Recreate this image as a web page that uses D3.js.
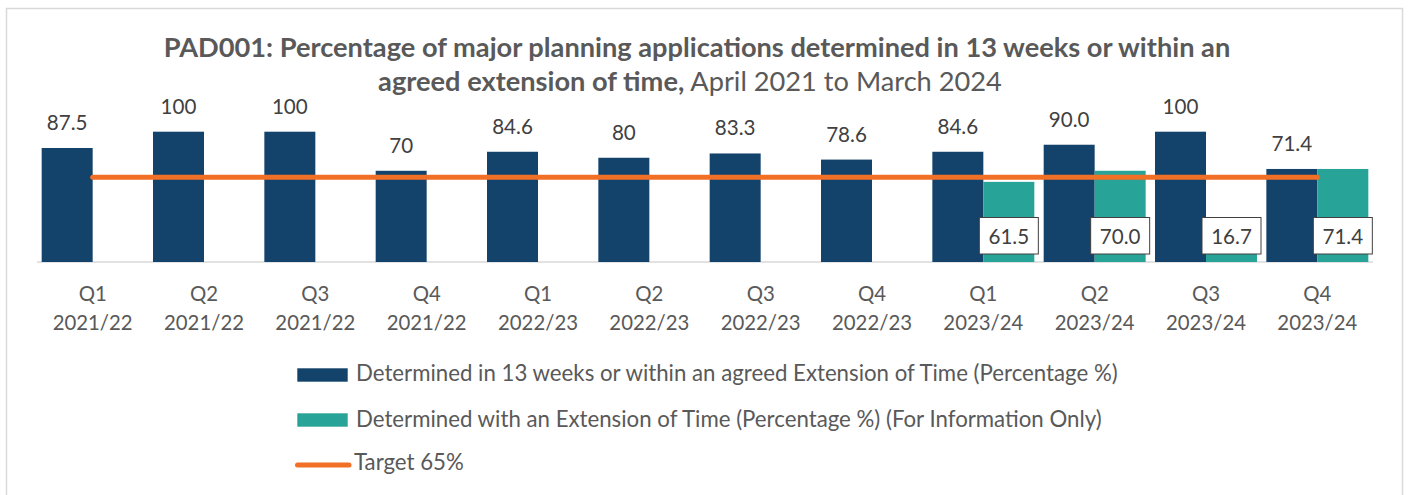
<!DOCTYPE html>
<html><head><meta charset="utf-8">
<script src="https://cdn.jsdelivr.net/npm/d3@7"></script>
<style>
body{margin:0;background:#fff}
svg{display:block}
text{font-family:Lato,"Open Sans",sans-serif}
</style>
</head><body>
<svg id="c" width="1408" height="495"></svg>
<script>
const quarters = ["Q1","Q2","Q3","Q4","Q1","Q2","Q3","Q4","Q1","Q2","Q3","Q4"];
const years = ["2021/22","2021/22","2021/22","2021/22","2022/23","2022/23","2022/23","2022/23","2023/24","2023/24","2023/24","2023/24"];
const determined = [87.5,100,100,70,84.6,80,83.3,78.6,84.6,90.0,100,71.4];
const determinedLabels = ["87.5","100","100","70","84.6","80","83.3","78.6","84.6","90.0","100","71.4"];
const extension = [null,null,null,null,null,null,null,null,61.5,70.0,16.7,71.4];
const extensionLabels = ["","","","","","","","","61.5","70.0","16.7","71.4"];
const target = 65;
const seriesNames = [
  "Determined in 13 weeks or within an agreed Extension of Time (Percentage %)",
  "Determined with an Extension of Time (Percentage %) (For Information Only)",
  "Target 65%"
];
const titleBold1 = "PAD001: Percentage of major planning applications determined in 13 weeks or within an";
const titleBold2 = "agreed extension of time,";
const titleNormal2 = " April 2021 to March 2024";

const C_DARK = "#13426b", C_TEAL = "#28a397", C_ORANGE = "#f26f26";
const C_TEXT = "#595959", C_LABEL = "#404040", C_GRID = "#d9d9d9";

const svg = d3.select("#c");
const idx = d3.range(quarters.length);

// frame
svg.append("rect").attr("x",6.5).attr("y",8.5).attr("width",1396).attr("height",500)
  .attr("fill","#fff").attr("stroke",C_GRID).attr("stroke-width",1.5);

const x = d3.scaleBand().domain(idx).range([37,1373]).paddingInner(0).paddingOuter(0);
const inner = d3.scaleBand().domain(["a","b"]).range([x.bandwidth()*0.042, x.bandwidth()*0.958]);
const y = d3.scaleLinear().domain([0,100]).range([262,131.7]);

function fit(sel, w){
  const n = sel.node();
  const cur = parseFloat(sel.attr("font-size"));
  const m = n.getComputedTextLength();
  return cur * w / m;
}

// axis baseline
svg.append("line").attr("x1",x.range()[0]).attr("x2",x.range()[1])
  .attr("y1",y(0)).attr("y2",y(0)).attr("stroke",C_GRID).attr("stroke-width",1.5);

// bars
svg.append("g").selectAll("rect").data(idx).join("rect")
  .attr("x",i=>x(i)+inner("a")).attr("width",inner.bandwidth())
  .attr("y",i=>y(determined[i])).attr("height",i=>y(0)-y(determined[i]))
  .attr("fill",C_DARK);
svg.append("g").selectAll("rect").data(idx.filter(i=>extension[i]!=null)).join("rect")
  .attr("x",i=>x(i)+inner("b")).attr("width",inner.bandwidth())
  .attr("y",i=>y(extension[i])).attr("height",i=>y(0)-y(extension[i]))
  .attr("fill",C_TEAL);

// target line
const cx = i => x(i)+x.bandwidth()/2;
svg.append("line").attr("x1",cx(0)).attr("x2",cx(idx.length-1))
  .attr("y1",y(target)).attr("y2",y(target))
  .attr("stroke",C_ORANGE).attr("stroke-width",5).attr("stroke-linecap","round");

// data label size
const probe = svg.append("text").attr("font-size",20).text("87.5");
const labelSize = fit(probe, 40.7); probe.remove();

svg.append("g").selectAll("text").data(idx).join("text")
  .attr("x",i=>x(i)+inner("a")+inner.bandwidth()/2).attr("y",i=>y(determined[i])-18)
  .attr("text-anchor","middle").attr("font-size",labelSize).attr("fill",C_LABEL)
  .text(i=>determinedLabels[i]);

const eg = svg.append("g").selectAll("g").data(idx.filter(i=>extension[i]!=null)).join("g")
  .attr("transform",i=>`translate(${x(i)+inner("b")+inner.bandwidth()/2},0)`);
eg.append("rect").attr("x",-29.5).attr("y",217.5).attr("width",59).attr("height",36.5)
  .attr("fill","#fff").attr("stroke",C_LABEL).attr("stroke-width",1);
eg.append("text").attr("x",0).attr("y",244.3).attr("text-anchor","middle")
  .attr("font-size",labelSize).attr("fill",C_LABEL).text(i=>extensionLabels[i]);

// category labels
const probe2 = svg.append("text").attr("font-size",20).text("2021/22");
const catSize = fit(probe2, 80); probe2.remove();
const cg = svg.append("g").selectAll("text").data(idx).join("text")
  .attr("text-anchor","middle").attr("font-size",catSize).attr("fill",C_TEXT)
  .attr("transform",i=>`translate(${cx(i)},0)`);
cg.append("tspan").attr("x",0).attr("y",300.7).text(i=>quarters[i]);
cg.append("tspan").attr("x",0).attr("y",330).text(i=>years[i]);

// title
const t1 = svg.append("text").attr("font-size",24).attr("font-weight","bold").attr("fill",C_TEXT)
  .attr("text-anchor","middle").attr("x",697).attr("y",57).text(titleBold1);
const titleSize = fit(t1, 1067);
t1.attr("font-size",titleSize);
const t2 = svg.append("text").attr("font-size",titleSize).attr("fill",C_TEXT)
  .attr("text-anchor","middle").attr("x",690).attr("y",91);
t2.append("tspan").attr("font-weight","bold").text(titleBold2);
t2.append("tspan").text(titleNormal2);

// legend
const probe3 = svg.append("text").attr("font-size",20).text(seriesNames[0]);
const legSize = fit(probe3, 762); probe3.remove();
const lg = svg.append("g");
lg.append("rect").attr("x",297.3).attr("y",368.3).attr("width",50.4).attr("height",13.4).attr("fill",C_DARK);
lg.append("text").attr("x",356).attr("y",381).attr("font-size",legSize).attr("fill",C_TEXT).text(seriesNames[0]);
lg.append("rect").attr("x",297.3).attr("y",413.3).attr("width",50.4).attr("height",13.4).attr("fill",C_TEAL);
lg.append("text").attr("x",356).attr("y",426.7).attr("font-size",legSize).attr("fill",C_TEXT).text(seriesNames[1]);
lg.append("line").attr("x1",297.5).attr("x2",349).attr("y1",465).attr("y2",465)
  .attr("stroke",C_ORANGE).attr("stroke-width",5).attr("stroke-linecap","round");
lg.append("text").attr("x",354).attr("y",470).attr("font-size",legSize).attr("fill",C_TEXT).text(seriesNames[2]);
</script>
</body></html>
